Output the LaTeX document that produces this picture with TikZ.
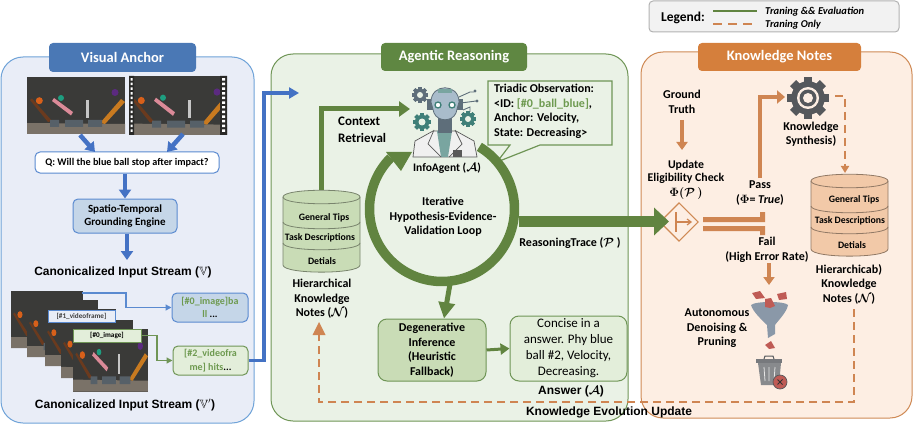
\documentclass[tikz,border=0pt]{standalone}
\usepackage{fontspec}
\usepackage{amssymb}
\setmainfont{Carlito}
\newfontfamily\arialf{Liberation Sans}
\usetikzlibrary{arrows.meta,calc}
\definecolor{bpanel}{HTML}{E9EDF7}\definecolor{bborder}{HTML}{6FA3D8}\definecolor{btitle}{HTML}{4A78B5}
\definecolor{barrow}{HTML}{4472C4}\definecolor{bbox}{HTML}{C5D6E8}\definecolor{bline}{HTML}{5A8AD0}
\definecolor{gpanel}{HTML}{EAF2E6}\definecolor{gborder}{HTML}{6F9556}\definecolor{gtitle}{HTML}{5F8742}
\definecolor{gbox}{HTML}{C9DCB6}\definecolor{gloop}{HTML}{618440}\definecolor{gtext}{HTML}{6E9A50}\definecolor{gpale}{HTML}{E3EEDA}
\definecolor{opanel}{HTML}{FDEEE3}\definecolor{oborder}{HTML}{CF8A55}\definecolor{otitle}{HTML}{D57F3C}
\definecolor{oarrow}{HTML}{CF8552}\definecolor{ocyl}{HTML}{F2C9A8}
\definecolor{gearc}{HTML}{55585C}
\definecolor{scbg}{HTML}{3A3A38}\definecolor{scfl}{HTML}{7A7268}\definecolor{scbk}{HTML}{566068}
\definecolor{scpk}{HTML}{DB8A98}\definecolor{scor}{HTML}{C87A20}\definecolor{scbr}{HTML}{6B3A1E}
\definecolor{scob}{HTML}{D8601A}\definecolor{sctl}{HTML}{1E9E80}\definecolor{scpu}{HTML}{5B2A80}
\definecolor{func}{HTML}{8A98A8}\definecolor{bitc}{HTML}{BF5B55}
\definecolor{robh}{HTML}{A9BCCB}\definecolor{robd}{HTML}{5E6E7A}\definecolor{robg}{HTML}{3F7F78}
\tikzset{
  panel/.style={draw=#1,line width=1pt,rounded corners=22pt,inner sep=0pt},
  titlebox/.style={fill=#1,rounded corners=4pt,text=white,font=\fontsize{14.5}{15}\selectfont\bfseries,inner sep=0pt},
  bx/.style={rounded corners=5pt,line width=1pt,inner sep=1pt,align=center},
  lbl/.style={font=\boldmath\fontsize{12}{14.5}\selectfont\bfseries,align=center,inner sep=0pt},
  lblb/.style={font=\boldmath\fontsize{13}{16.5}\selectfont\bfseries,align=left,inner sep=0pt},
  lbla/.style={font=\arialf\fontsize{12}{13}\selectfont\bfseries,inner sep=0pt},
  cyltext/.style={font=\fontsize{9.8}{10}\selectfont\bfseries,inner sep=0pt},
  blueflow/.style={barrow,line width=4.5pt,-{Triangle[length=9pt,width=12pt]}},
  greenflow/.style={gloop,line width=5pt,-{Triangle[length=11pt,width=15pt]}},
  orangeflow/.style={oarrow,line width=3.5pt,-{Triangle[length=8pt,width=11pt]}},
  orangedash/.style={oarrow,line width=2.8pt,dash pattern=on 8pt off 5pt},
}
\newcommand{\scenedraw}{%
  \fill[scbg] (0,0) rectangle (98,57);
  \fill[scfl] (0,46) -- (98,47) -- (98,57) -- (0,57) -- cycle;
  \fill[scbr] (3,23) -- (5,21.5) -- (25,44) -- (21,45) -- cycle;
  \fill[scob] (12.3,23.7) circle (3.5);
  \fill[scpk] (25,24) -- (27,21) -- (46,35) -- (44,38.5) -- cycle;
  \fill[sctl] (34,21) circle (3);
  \fill[gray!45] (59,23) rectangle (62,41);
  \fill[scpu] (88,15.5) circle (3.5);
  \fill[scor] (73,46) -- (94,22) -- (98,25) -- (78,47) -- cycle;
  \fill[scbk] (23,43) rectangle (32,50) (38,43) rectangle (56,50) (61,43) rectangle (75,50);
}
\newcommand{\gearicon}[4]{%
  \foreach \a in {0,45,...,315}{\fill[#4,shift={(#1,#2)},rotate=\a] (-#3*.2,-#3) rectangle (#3*.2,#3);}
  \fill[#4] (#1,#2) circle ({#3*.8});
}
\newcommand{\cylinder}[3]{% dx, dy, fill
 \begin{scope}[shift={(#1,#2)}]
  \draw[#3!60!black,fill=#3,line width=.8pt] (283,197) .. controls (283,188) and (360,188) .. (360,197) -- (360,265) .. controls (360,274.5) and (283,274.5) .. (283,265) -- cycle;
  \draw[#3!60!black,line width=.8pt] (283,197) .. controls (283,206) and (360,206) .. (360,197);
  \draw[#3!60!black,line width=.8pt] (283,222) .. controls (283,231) and (360,231) .. (360,222);
  \draw[#3!60!black,line width=.8pt] (283,243) .. controls (283,252) and (360,252) .. (360,243);
 \end{scope}}
\begin{document}
\begin{tikzpicture}[x=1pt,y=-1pt]
\useasboundingbox (0,0) rectangle (913,425);
% panels
\node[panel=bborder,fill=bpanel,minimum width=253pt,minimum height=366pt] (vp) at (127.5,240) {};
\node[panel=gborder,fill=gpanel,minimum width=357pt,minimum height=367pt] (ap) at (449.5,237.5) {};
\node[panel=oborder,fill=opanel,minimum width=271pt,minimum height=366pt] (kp) at (776.5,235) {};
\node[titlebox=btitle,minimum width=147pt,minimum height=29pt] (vt) at (122.5,57.5) {Visual Anchor};
\node[titlebox=gtitle,minimum width=146pt,minimum height=28pt] (at) at (454,57) {Agentic Reasoning};
\node[titlebox=otitle,minimum width=163pt,minimum height=28pt] (kt) at (779.5,57) {Knowledge Notes};
% legend
\node[draw=black!30,fill=black!5,rounded corners=4pt,line width=1pt,minimum width=250pt,minimum height=31pt,inner sep=0pt] (legend) at (774,16.5) {};
\node[font=\fontsize{13.5}{14}\selectfont\bfseries,inner sep=0pt] (legt) at (683,18) {Legend:};
\coordinate (l1a) at (713,11);\coordinate (l1b) at (757,11);\coordinate (l2a) at (713,24);\coordinate (l2b) at (757,24);
\draw[gloop,line width=2.4pt] (l1a) -- (l1b);
\draw[oarrow,line width=2.6pt,dash pattern=on 9pt off 6pt] (l2a) -- (l2b);
\node[anchor=west,font=\fontsize{10.5}{11}\selectfont\bfseries\itshape,inner sep=0pt] (lt1) at (765,11.5) {Traning \&\& Evaluation};
\node[anchor=west,font=\fontsize{10.5}{11}\selectfont\bfseries\itshape,inner sep=0pt] (lt2) at (765,25) {Traning Only};
% images
\node[inner sep=0pt,minimum width=98pt,minimum height=57pt,anchor=north west] (img1) at (27,77) {};
\node[inner sep=0pt,minimum width=98pt,minimum height=59pt,anchor=north west] (img2) at (129,76) {};
\begin{scope}[shift={(27,77)}]\scenedraw\end{scope}
\begin{scope}[shift={(129,76)},yscale=1.035]\scenedraw
  \fill[scbg!70!black] (0,0) rectangle (5,57) (91,0) rectangle (98,57);
  \foreach \y in {2,6.5,...,54}{\fill[white] (1.5,\y) rectangle (3.5,\y+2.4) (93,\y) rectangle (96,\y+2.4);}
\end{scope}
% Q and grounding
\node[draw=bline,fill=white,bx,minimum width=184pt,minimum height=21pt,font=\fontsize{10.2}{12}\selectfont\bfseries] (q) at (127,162.5) {Q: Will the blue ball stop after impact?};
\node[draw=bline,fill=bbox,bx,minimum width=104pt,minimum height=34pt,font=\fontsize{11}{13}\selectfont\bfseries] (st) at (125,216) {Spatio-Temporal\\Grounding Engine};
\coordinate (i1a) at (80,135);\coordinate (q1) at (95,152);\coordinate (i2a) at (183,134);\coordinate (q2) at (167,152);
\draw[blueflow] (i1a) -- (q1);
\draw[blueflow] (i2a) -- (q2);
\draw[blueflow] (q.south-|st.north) -- (st.north);
\coordinate (c1) at (127,260);
\draw[blueflow] (st.south-|c1) -- (c1);
\node[lbla] (cis1) at (123,272.5) {Canonicalized Input Stream ($\mathbb{V}$)};
\node[lbla] (cis2) at (125,405) {Canonicalized Input Stream ($\mathbb{V}'$)};
% stacked frames
\begin{scope}[shift={(11,291)},xscale=.73,yscale=1]\scenedraw\end{scope}
\begin{scope}[shift={(27,300)},xscale=.72,yscale=1]\scenedraw\end{scope}
\begin{scope}[shift={(45,309)},xscale=.72,yscale=1]\scenedraw\end{scope}
\begin{scope}[shift={(61,320)},xscale=.73,yscale=1.02]\scenedraw\end{scope}
\begin{scope}[shift={(73,329)},xscale=.765,yscale=1.1]\scenedraw\end{scope}
\node[draw=bline,fill=bpanel,line width=.9pt,minimum width=67pt,minimum height=12pt,inner sep=0pt,font=\fontsize{7.2}{8}\selectfont\bfseries,text=black!75] (t1) at (81.5,316) {[\#1\_videoframe]};
\node[draw=gborder,fill=gpale,line width=.9pt,minimum width=68pt,minimum height=13pt,inner sep=0pt,font=\fontsize{7.2}{8}\selectfont\bfseries] (t0) at (107,335.5) {[\#0\_image]};
\node[draw=bline,fill=bbox,bx,minimum width=76pt,minimum height=29pt,text=gtext,font=\fontsize{10}{13.5}\selectfont\bfseries] (bb) at (210,307.5) {[\#0\_image]ba\\ll \textcolor{black}{...}};
\node[draw=gborder,fill=gpale,bx,minimum width=75pt,minimum height=29pt,text=gtext,font=\fontsize{10}{13.5}\selectfont\bfseries] (gb) at (210.5,360.5) {[\#2\_videofra\\me] hits\textcolor{black}{...}};
\coordinate (fr1) at (82,293);
\draw[bline,line width=1.3pt,-{Triangle[length=6pt,width=6pt]}] (fr1) -- (126,293) -- (126,307.5) -- (bb.west);
\draw[gborder,line width=1.3pt,-{Triangle[length=6pt,width=6pt]}] (t0.east) -- (157,335.5) -- (157,360.5) -- (gb.west);
\coordinate (rbin) at (299,93);
\draw[barrow,line width=3.5pt,-{Triangle[length=10pt,width=11pt]}] (gb.east) -- (264,360.5) -- (264,93) -- (rbin);
% robot
\node[inner sep=0pt,minimum width=66pt,minimum height=72pt] (robot) at (445,121) {};
\fill[white!88!gray,draw=gray!70!black,line width=.7pt] (413,157) -- (415,141) -- (433,131) -- (456,131) -- (474,141) -- (477,157) -- cycle;
\fill[robg!70!white] (437,131) -- (452,131) -- (448,157) -- (441,157) -- cycle;
\draw[gray!70!black,line width=.7pt] (434,130) -- (428,144) -- (441,157) (455,130) -- (462,144) -- (449,157);
\fill[gray!70!black] (453,150) rectangle (462,157);
\fill[robd] (438,115) rectangle (452,133);
\fill[robd] (427,99) rectangle (463,110);
\fill[robh,draw=robd,line width=.8pt] (431,102) .. controls (431,83) and (459,83) .. (459,102) -- (456,113) .. controls (452,122) and (438,122) .. (434,113) -- cycle;
\fill[white,draw=robg,line width=1.3pt] (438,105) circle (3) (452,105) circle (3);
\fill[robg!70!white] (438,89) rectangle (452,93);
\gearicon{420}{95}{8}{robd}\fill[gpanel] (420,95) circle (3);
\gearicon{422}{122}{9}{robg}\fill[gpanel] (422,122) circle (3.5);
\gearicon{468}{119}{8}{robg}\fill[gpanel] (468,119) circle (3);
\draw[robd,line width=.9pt] (459,97) -- (470,92) -- (474,92) (461,103) -- (476,101) (463,110) -- (470,107) -- (470,112);
\fill[robd] (475,91) circle (1.6) (477,101) circle (1.6);
\node[lbl,font=\boldmath\fontsize{11.5}{13}\selectfont\bfseries] (ia) at (447,168) {InfoAgent ($\mathcal{A}$)};
% callout
\coordinate (tail) at (497,162);
\fill[gpanel,draw=gborder,line width=1.2pt] (488,81) -- (612,81) -- (612,145) -- (540,145) -- (tail) -- (510,145) -- (488,145) -- cycle;
\node[anchor=north west,font=\fontsize{12}{14.5}\selectfont\bfseries,align=left,inner sep=0pt] (co) at (494,84) {Triadic Observation:\\<ID: \textcolor{gtext}{[\#0\_ball\_blue]},\\Anchor: Velocity,\\State: Decreasing>};
% cylinders
\cylinder{0}{0}{gbox}
\cylinder{528}{-16}{ocyl}
\node[cyltext] (c1g) at (324,218) {General Tips};
\node[cyltext] (c1t) at (320,238) {Task Descriptions};
\node[cyltext] (c1d) at (322,261) {Detials};
\node[cyltext] (c2g) at (854,200) {General Tips};
\node[cyltext] (c2t) at (850,221) {Task Descriptions};
\node[cyltext] (c2d) at (852,245) {Detials};
\coordinate (cyltop) at (321,190);\coordinate (rbl) at (410,109);
\draw[greenflow] (cyltop) -- (321,109) -- (rbl);
\node[lblb,anchor=north west] (cr) at (338,117) {Context\\Retrieval};
\node[lbl] (hk) at (322,299) {Hierarchical\\Knowledge\\Notes ($\mathcal{N}$)};
% loop
\draw[gloop,line width=9.5pt] plot[domain=59:-225,samples=120] ({442+72.5*cos(\x)},{209-72.5*sin(\x)});
\fill[gloop] (386,152) -- (412,152) -- (401,171) -- cycle;
\node[lbl] (il) at (443,217) {Iterative\\Hypothesis-Evidence-\\Validation Loop};
% degenerative
\node[draw=gborder,fill=gbox,bx,rounded corners=9pt,minimum width=108pt,minimum height=62pt,font=\fontsize{12}{14.5}\selectfont\bfseries] (dg) at (432,350) {Degenerative\\Inference\\(Heuristic\\Fallback)};
\coordinate (ls) at (450,284);
\draw[gloop,line width=5pt,-{Triangle[length=16pt,width=16pt]}] (ls) -- (dg.north-|444,0);
\node[draw=gborder,fill=gpale,bx,rounded corners=9pt,minimum width=117pt,minimum height=65pt,font=\fontsize{13}{16}\selectfont] (ans) at (568.5,348.5) {Concise in a\\answer. Phy blue\\ball \#2, Velocity,\\Decreasing.};
\draw[gloop,line width=3pt,-{Triangle[length=9pt,width=11pt]}] (dg.east) -- (ans.west);
\node[lbla,font=\boldmath\arialf\fontsize{12}{13}\selectfont\bfseries] (ansl) at (571,391) {Answer ($\mathcal{A}$)};
\node[lbl,font=\boldmath\fontsize{12}{13}\selectfont\bfseries] (rt) at (570,243) {ReasoningTrace ($\mathcal{P}$ )};
% diamond
\node[draw=oborder,fill=opanel,line width=1.2pt,inner sep=0pt,minimum size=27pt,rotate=45] (dm) at (679,222) {};
\coordinate (bigs) at (519,221.5);
\draw[gloop,line width=11pt,-{Triangle[length=15pt,width=27pt]}] (bigs) -- (dm.west|-bigs);
\draw[oarrow,line width=1.2pt] (676,212) -- (676,232);
\draw[oarrow,line width=1.2pt,-{Straight Barb[length=4pt,width=6pt]}] (676,222) -- (692,222);
% rails
\fill[oarrow] (703,217) -- (760,217) -- (760,212) -- (765,212) -- (765,222) -- (703,222) -- cycle;
\fill[oarrow] (703,226) -- (765,226) -- (765,235) -- (760,235) -- (760,231) -- (703,231) -- cycle;
% ground truth
\node[lbl] (gt) at (682,102) {Ground\\Truth};
\node[lbl,font=\boldmath\fontsize{11.8}{13}\selectfont\bfseries] (ue) at (686,180) {Update\\Eligibility Check\\[1.5pt]$\Phi(\mathcal{P}\,)$};
\coordinate (gta) at (682,120);\coordinate (gtb) at (682,150);
\draw[orangeflow] (gta) -- (gtb);
% pass / synth
\node[lbl] (ps) at (760,193) {Pass\\($\Phi$= \textit{True})};
\coordinate (pa) at (760,178);\coordinate (pb) at (785,97);
\draw[oarrow,line width=4pt,-{Triangle[length=8pt,width=13pt]}] (pa) -- (760,97) -- (pb);
\node[inner sep=0pt,minimum size=42pt] (gearn) at (808,98) {};
\gearicon{808}{98}{21}{gearc}
\fill[opanel] (808,98) circle (11);
\fill[gearc] (808,98) circle (8.5);
\fill[opanel] (808,98) circle (5);
\node[lbl] (ks) at (811,134) {Knowledge\\Synthesis)};
\coordinate (da) at (835,96);\coordinate (db) at (845,173);
\draw[orangedash] (da) -- (845,96) -- (845,165);
\draw[oarrow,line width=2pt,-{Triangle[length=7pt,width=8pt]}] (845,165) -- (db);
\node[lbl] (hn) at (849,284) {Hierarchicab)\\Knowledge\\Notes ($\mathcal{N}$)};
% fail / funnel
\node[lbl] (fl) at (767,250) {Fail\\(High Error Rate)};
\coordinate (fa) at (769,263);\coordinate (fb) at (769,285);
\draw[orangeflow] (fa) -- (fb);
\node[inner sep=0pt,minimum width=36pt,minimum height=34pt] (fun) at (770,321) {};
\fill[func] (751,305) .. controls (755,301) and (785,301) .. (788,305) .. controls (787,312) and (777,322) .. (775,325) -- (775,334) -- (768,338) -- (767,325) .. controls (762,320) and (753,312) .. (751,305) -- cycle;
\fill[bitc] (752,293) -- (760,291) -- (765,298) -- (756,299) -- cycle (777,294) -- (786,292) -- (787,299) -- (779,300) -- cycle (765,299) -- (771,298) -- (775,306) -- (770,308) -- (765,307) -- cycle (765,345) -- (771,341) -- (775,348) -- (769,349) -- cycle;
\node[inner sep=0pt,minimum width=26pt,minimum height=32pt] (tr) at (769,371) {};
\fill[gearc!80] (756,359) rectangle (782,363);
\draw[gearc,line width=1pt] (764,359) -- (765,356) -- (773,356) -- (774,359);
\fill[gearc!70] (758,363) -- (781,363) -- (779,385) -- (761,385) -- cycle;
\draw[white!80!gray,line width=.8pt] (764,367) -- (765,381) (769,367) -- (769,381) (775,367) -- (774,381);
\fill[bitc,draw=gearc,line width=.7pt] (780,382) circle (7);
\draw[black!80,line width=1pt] (777.5,379.5) -- (782.5,384.5) (782.5,379.5) -- (777.5,384.5);
\node[lbl] (au) at (717,328.5) {Autonomous\\Denoising \&\\Pruning};
% evolution dashed
\coordinate (ea) at (854,309);\coordinate (eb) at (319,335);\coordinate (ec) at (319,322);
\draw[orangedash] (ea) -- (854,402) -- (319,402) -- (eb);
\fill[oarrow] (ec) -- (325.5,335) -- (312.5,335) -- cycle;
\node[lbla] (ke) at (609,412.5) {Knowledge Evolution Update};
\end{tikzpicture}
\end{document}
